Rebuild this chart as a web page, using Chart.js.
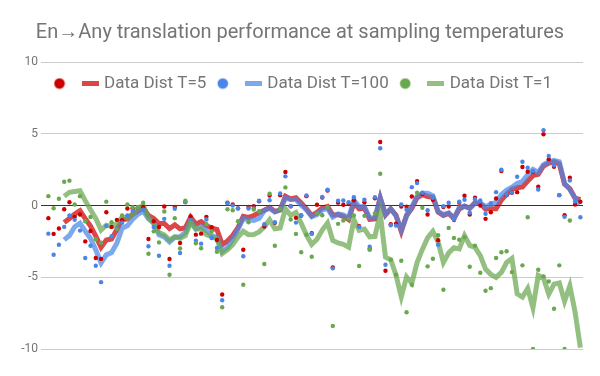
<!DOCTYPE html>
<html>
<head>
<meta charset="utf-8">
<script src="https://cdn.jsdelivr.net/npm/chart.js@4/dist/chart.umd.min.js"></script>
<style>
html,body{margin:0;padding:0;background:#fff;}
#wrap{width:600px;height:376px;}
</style>
</head>
<body>
<div id="wrap"><canvas id="c" width="600" height="376"></canvas></div>
<script>
// ---- data ----
const titleText = "En\u2192Any translation performance at sampling temperatures";
const seriesNames = ["Data Dist T=5", "Data Dist T=100", "Data Dist T=1"];
const yTicks = [-10, -5, 0, 5, 10];

// per-language scores (102 En->Any pairs), points
const t5Points = [-0.88,-1.98,-1.6,-0.26,0.23,-0.79,-0.63,-2.5,-1.78,-3.66,
 -3.72,-0.47,-1.49,-1.0,-1.03,-0.21,-0.2,-0.12,-0.1,-2.33,
 -1.1,-1.5,-0.07,-3.73,-0.1,-2.61,0.25,-0.77,-2.03,-1.96,
 -0.79,-1.52,-2.4,-6.2,0.19,0.07,-0.2,-3.08,-0.1,-0.05,
 0.3,-1.47,0.7,-1.21,0.72,2.33,-0.05,-0.86,-0.7,0.65,
 -1.93,0.05,0.55,1.05,-4.31,0.2,0.05,0.1,0.37,-1.45,
 0.23,-3.03,0.5,4.43,-4.55,-1.3,-1.26,-0.07,-0.09,0.63,
 1.7,0.8,-0.63,0.4,-2.42,-0.1,-0.07,-1.0,0.2,0.68,
 -0.63,0.54,0,-0.93,-0.47,0.49,2.4,0.72,0.89,0.93,
 2.68,2.35,2.35,1.31,4.97,3.22,2.7,0.72,-0.68,1.93,
 0.07,0.26];
const t100Points = [-1.96,-3.43,-2.73,-1.49,-0.7,-1.0,-1.75,-3.66,-2.8,-4.2,
 -5.34,-1.42,-2.14,-1.59,-1.2,-0.7,-0.35,-0.2,-0.3,-2.84,
 -1.5,-3.5,-0.93,-4.2,-0.23,-3.31,0.23,-1.0,-2.45,-2.66,
 -0.98,-2.26,-2.96,-6.6,0.16,0,-0.21,-3.54,-0.21,-0.2,
 0.33,-1.31,0.37,-1.17,0.84,2.03,-0.05,-1.19,-0.7,0.7,
 -1.98,-0.56,0.6,1.1,-4.38,0.33,0.35,0.23,0.58,-1.49,
 0.4,-2.87,0.58,3.99,-4.13,-1.38,-1.4,0.07,-0.3,1.28,
 1.56,0.89,-0.33,0.54,-2.73,-0.05,0.19,-0.96,0.26,0.4,
 -0.51,0.44,0.35,-0.58,0.16,0.93,2.49,0.75,0.9,2.0,
 3.05,2.63,2.4,1.12,5.24,3.45,2.8,0.72,-0.79,1.75,
 0.3,-0.82];
const t1Points = [0.65,-0.19,0.47,1.66,1.73,0.07,0.65,-1.1,-0.8,-2.35,
 -2.6,0.27,-1.17,-1.63,-0.7,0.07,-0.12,-0.1,0.19,-3.36,
 -1.8,-2.57,-0.42,-4.83,-0.88,-3.0,0.33,-1.2,-2.63,-2.98,
 -1.3,-1.8,-3.22,-7.09,-0.26,-0.33,-1.1,-5.52,-1.17,-0.28,
 -0.4,-4.08,0.82,-2.8,-0.23,1.26,-0.98,-1.98,-3.26,-2.03,
 -3.57,-0.54,-0.68,-0.1,-8.39,-1.28,-1.05,-0.93,-0.7,-4.22,
 -0.72,-3.08,-0.56,2.21,-13,-3.78,-4.83,-3.85,-7.44,-5.52,
 0.89,-0.16,-4.24,-3.71,-2.07,-5.87,-1.56,-2.26,-2.38,-2.21,
 -4.27,-2.8,-4.69,-5.94,-5.76,-3.66,-3.26,-3.19,-4.64,-13.5,
 -4.17,-0.82,-10,-4.48,-4.94,-5.3,-7.2,-4.17,-10,-1.05,
 -14.5,-14];

// trend lines as drawn in the picture
const t5Line = [null,null,null,-1.18,-0.9,-0.6,-0.36,-0.92,-1.43,-2.14,
 -2.92,-2.41,-2.34,-1.67,-1.0,-0.93,-0.61,-0.39,-0.16,-0.69,
 -0.91,-1.26,-1.25,-1.6,-1.35,-1.63,-1.55,-0.81,-1.29,-1.13,
 -1.39,-1.58,-1.67,-2.73,-2.48,-2.09,-1.54,-0.76,-0.83,-0.7,
 -0.5,-0.33,-0.13,-0.42,-0.31,0.64,0.45,0.54,0.18,-0.24,
 -0.71,-0.48,-0.17,-0.07,-0.67,-0.63,-0.75,-0.99,0.18,-0.23,
 -0.19,-0.97,-0.94,0.53,-0.66,-0.23,-0.67,-1.8,-0.68,-0.2,
 0.54,0.76,0.63,0.57,-0.46,-0.69,-0.55,-0.9,-0.24,-0.05,
 -0.19,0.2,0.15,-0.26,-0.22,-0.23,0.37,0.79,1.13,1.24,
 1.3,1.71,2.08,2.17,2.75,2.96,3.05,2.9,1.49,1.17,
 0.51,0.4];
const t100Line = [null,null,null,-2.4,-2.09,-1.48,-1.24,-1.78,-2.3,-3.1,
 -4.0,-3.44,-3.28,-2.62,-1.59,-1.41,-0.96,-0.61,-0.39,-0.92,
 -1.21,-2.04,-2.19,-2.53,-2.22,-2.17,-1.88,-1.08,-1.63,-1.47,
 -1.77,-2.09,-2.22,-3.2,-2.92,-2.35,-1.66,-0.9,-0.99,-1.04,
 -0.9,-0.35,-0.2,-0.45,-0.32,0.52,0.41,0.41,0.02,-0.31,
 -0.79,-0.64,-0.31,-0.21,-0.81,-0.59,-0.65,-0.87,0.37,-0.08,
 -0.07,-0.85,-0.85,0.53,-0.61,-0.24,-0.73,-1.71,-0.75,-0.09,
 0.65,0.86,0.85,0.67,-0.41,-0.64,-0.51,-0.89,-0.14,-0.03,
 -0.2,0.15,0.17,-0.08,0.09,0.22,0.75,1.08,1.27,1.54,
 1.68,2.15,2.52,2.3,2.85,3.05,3.15,3.05,1.55,1.12,
 0.5,0.11];
const t1Line = [null,null,null,0.65,0.92,0.98,1.03,0.34,-0.3,-0.9,
 -1.71,-1.37,-1.46,-1.28,-0.81,-0.86,-0.6,-0.21,0.01,-0.85,
 -1.27,-1.89,-2.04,-2.41,-2.18,-2.28,-2.1,-1.19,-1.63,-1.62,
 -2.03,-2.18,-2.33,-3.35,-3.09,-2.73,-2.2,-1.8,-2.03,-2.02,
 -1.84,-1.48,-0.99,-1.62,-1.57,-0.24,-0.69,-0.48,-1.24,-2.06,
 -2.71,-2.35,-1.71,-1.22,-2.43,-2.61,-2.71,-2.91,-0.99,-1.73,
 -1.64,-2.18,-2.15,-0.54,-3.6,-3.78,-4.85,-6.37,-4.98,-5.41,
 -3.98,-3.06,-2.26,-1.8,-2.55,-3.97,-3.3,-2.94,-3.02,-2.1,
 -2.78,-2.92,-3.49,-4.43,-4.8,-5.01,-4.66,-3.97,-3.69,-6.15,
 -6.38,-5.78,-7.12,-4.87,-5.06,-6.18,-5.48,-5.4,-6.67,-5.6,
 -7.43,-9.9];

// language positions along the x axis (one per language pair)
const languages = t5Points.map((_, i) => i);

// ---- styles ----
const pointColors = ['#cc0000', '#4a86e8', '#6aa84f'];
const lineColors = ['rgba(204,0,0,0.72)', 'rgba(74,134,232,0.72)', 'rgba(106,168,79,0.72)'];
const textGray = '#757575';

function dotImage(color) {
  const c = document.createElement('canvas');
  c.width = 12; c.height = 12;
  const g = c.getContext('2d');
  g.fillStyle = color;
  g.beginPath(); g.arc(6, 6, 5.3, 0, Math.PI * 2); g.fill();
  return c;
}
function dashImage(color) {
  const c = document.createElement('canvas');
  c.width = 17; c.height = 5;
  const g = c.getContext('2d');
  g.fillStyle = color;
  g.fillRect(0, 0, 17, 5);
  return c;
}

const toXY = arr => arr.map((v, i) => ({x: languages[i], y: v}));
const pointSeries = [t5Points, t100Points, t1Points];
const lineSeries = [t5Line, t100Line, t1Line];

const datasets = [];
lineSeries.forEach((arr, k) => {
  datasets.push({
    label: seriesNames[k] + ' trend',
    data: toXY(arr),
    borderColor: lineColors[k],
    backgroundColor: lineColors[k],
    borderWidth: 5,
    pointRadius: 0,
    tension: 0,
    spanGaps: false,
    order: 10 - k
  });
});
pointSeries.forEach((arr, k) => {
  datasets.push({
    label: seriesNames[k],
    data: toXY(arr),
    showLine: false,
    pointRadius: 2.2,
    pointHoverRadius: 2.2,
    pointBorderWidth: 0,
    pointBackgroundColor: pointColors[k],
    borderColor: pointColors[k],
    order: 3 - k
  });
});

const legendItems = [];
for (let k = 0; k < 3; k++) {
  legendItems.push({text: '', pointStyle: dotImage(pointColors[k]), fillStyle: pointColors[k],
    strokeStyle: 'rgba(0,0,0,0)', lineWidth: 0, hidden: false, fontColor: textGray, datasetIndex: 3 + k});
  legendItems.push({text: seriesNames[k], pointStyle: dashImage(lineColors[k]), fillStyle: lineColors[k],
    strokeStyle: 'rgba(0,0,0,0)', lineWidth: 0, hidden: false, fontColor: textGray, datasetIndex: k});
}

// legend sits inside the plot area (as in the reference), so it takes no layout space
const legendInside = {
  id: 'legendInside',
  beforeLayout(chart) {
    const lg = chart.legend;
    if (lg && !lg._wrapped) {
      const fit = lg.fit.bind(lg);
      lg.fit = function () { fit(); this._fullH = this.height; this.height = 0; };
      lg._wrapped = true;
    }
  },
  afterLayout(chart) {
    const lg = chart.legend, ca = chart.chartArea;
    if (!lg) return;
    lg.left = ca.left + 2;
    lg.right = ca.right;
    lg.width = lg.right - lg.left;
    lg.top = ca.top + 2;
    lg.height = lg._fullH || 30;
    lg.bottom = lg.top + lg.height;
  }
};

new Chart(document.getElementById('c'), {
  type: 'line',
  data: {datasets},
  plugins: [legendInside],
  options: {
    responsive: false,
    animation: false,
    layout: {padding: {left: 0, right: 0, top: 0, bottom: 27}},
    plugins: {
      tooltip: {enabled: false},
      title: {
        display: true,
        text: titleText,
        color: textGray,
        font: {family: 'Roboto', size: 20, weight: 'normal'},
        padding: {top: 21, bottom: 17}
      },
      legend: {
        display: true,
        position: 'top',
        align: 'start',
        labels: {
          usePointStyle: true,
          pointStyleWidth: 11,
          padding: 11,
          color: textGray,
          font: {family: 'Roboto', size: 17},
          generateLabels: () => legendItems
        }
      }
    },
    scales: {
      x: {
        type: 'linear',
        min: -1.4,
        max: 101.5,
        display: false
      },
      y: {
        min: yTicks[0],
        max: yTicks[yTicks.length - 1],
        afterFit: s => { s.width = 41; },
        afterBuildTicks: s => { s.ticks = yTicks.map(v => ({value: v})); },
        border: {display: false},
        grid: {
          drawTicks: false,
          color: c => (c.tick && c.tick.value === 0) ? '#333333' : '#cccccc',
          lineWidth: 1
        },
        ticks: {
          color: textGray,
          font: {family: 'Roboto', size: 12},
          padding: 3
        }
      },
      yRight: {
        position: 'right',
        min: yTicks[0],
        max: yTicks[yTicks.length - 1],
        afterFit: s => { s.width = 17; },
        border: {display: false},
        grid: {display: false, drawTicks: false},
        ticks: {display: false}
      }
    }
  }
});
</script>
</body>
</html>
